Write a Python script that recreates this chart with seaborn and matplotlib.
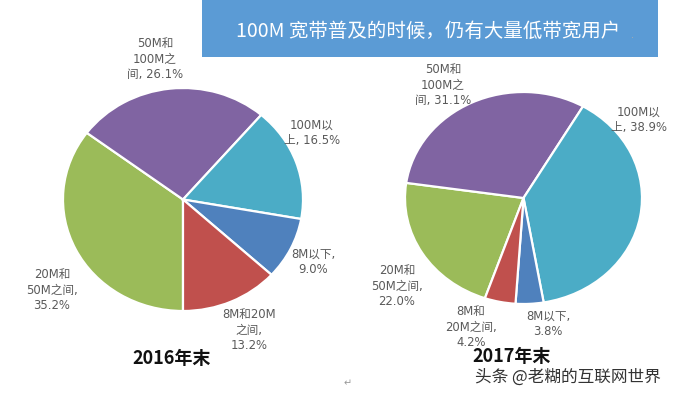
import matplotlib
matplotlib.use("Agg")
import matplotlib.pyplot as plt
import matplotlib.patches as mpatches
import seaborn as sns

# ---------------- data ----------------
categories = ["20M和50M之间", "50M和100M之间", "100M以上", "8M以下", "8M和20M之间"]
values_2016 = [35.2, 26.1, 16.5, 9.0, 13.2]
values_2017 = [22.0, 31.1, 38.9, 3.8, 4.2]
label_fmt_2016 = ["20M和\n50M之间,\n{v:.1f}%", "50M和\n100M之\n间, {v:.1f}%",
                  "100M以\n上, {v:.1f}%", "8M以下,\n{v:.1f}%", "8M和20M\n之间,\n{v:.1f}%"]
label_fmt_2017 = ["20M和\n50M之间,\n{v:.1f}%", "50M和\n100M之\n间, {v:.1f}%",
                  "100M以\n上, {v:.1f}%", "8M以下,\n{v:.1f}%", "8M和\n20M之间,\n{v:.1f}%"]
title_text = "100M 宽带普及的时候，仍有大量低带宽用户"
year_labels = ["2016年末", "2017年末"]
watermark = "头条 @老糊的互联网世界"

# ---------------- style ----------------
sns.set_theme(style="white")
plt.rcParams["font.family"] = ["DejaVu Sans", "Noto Sans CJK SC"]
colors = sns.color_palette(["#9BBB59", "#8064A2", "#4BACC6", "#4F81BD", "#C0504D"])

W, H = 676, 397
fig = plt.figure(figsize=(W / 100, H / 100), dpi=100)
fig.patch.set_facecolor("white")


def px(x, y):
    return x / W, 1 - y / H


def pie_axes(x0, y0, x1, y1):
    ax = fig.add_axes([x0 / W, 1 - y1 / H, (x1 - x0) / W, (y1 - y0) / H])
    return ax


# label positions (pixel centers) - layout only
label_pos_2016 = [(52, 290), (155, 59), (312, 133), (313, 262), (249, 330)]
label_pos_2017 = [(397, 286), (443, 85), (639, 120), (548, 324), (471, 327)]

for vals, fmts, box, start, lpos in [
    (values_2016, label_fmt_2016, (63, 88, 303, 311), 270, label_pos_2016),
    (values_2017, label_fmt_2017, (405, 92, 642, 304), 251, label_pos_2017),
]:
    ax = pie_axes(*box)
    ax.pie(vals, colors=colors, startangle=start, counterclock=False, radius=1,
           wedgeprops=dict(edgecolor="white", linewidth=1.6))
    ax.set_aspect("auto")
    ax.set_xlim(-1.0, 1.0)
    ax.set_ylim(-1.0, 1.0)
    ax.axis("off")
    for f, v, (lx, ly) in zip(fmts, vals, lpos):
        fig.text(*px(lx, ly), f.format(v=v), ha="center", va="center",
                 multialignment="center", fontsize=8.4, color="#5a5a5a",
                 linespacing=1.22)

# title banner
fig.patches.append(mpatches.Rectangle((202 / W, 1 - 57 / H), (658 - 202) / W, 57 / H,
                                      transform=fig.transFigure, facecolor="#5B9BD5",
                                      edgecolor="none", zorder=0))
fig.text(*px(428, 31), title_text, ha="center", va="center", fontsize=14,
         color="white", family=["Noto Sans CJK SC", "DejaVu Sans"])
fig.text(*px(632, 35), ".", ha="center", va="center", fontsize=7, color="#aaaaaa")

# year captions
fig.text(*px(172, 358), year_labels[0], ha="center", va="center", fontsize=13,
         fontweight="bold", color="#111111", family=["Noto Sans CJK SC", "DejaVu Sans"])
fig.text(*px(512, 356), year_labels[1], ha="center", va="center", fontsize=13,
         fontweight="bold", color="#111111", family=["Noto Sans CJK SC", "DejaVu Sans"])

# watermark and stray mark
fig.text(*px(568, 377), watermark, ha="center", va="center", fontsize=12,
         color="#333333", family=["Noto Sans CJK SC", "DejaVu Sans"])
fig.text(*px(348, 383), "\u21b5", ha="center", va="center", fontsize=7, color="#999999")

fig.savefig("out.png", dpi=100, facecolor="white")
